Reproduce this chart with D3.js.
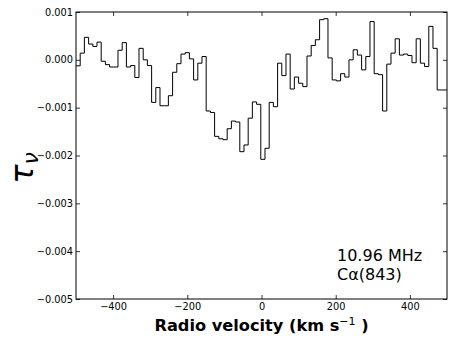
<!DOCTYPE html>
<html>
<head>
<meta charset="utf-8">
<script src="https://cdn.jsdelivr.net/npm/d3@7"></script>
<style>
  html, body { margin: 0; padding: 0; background: #fff; }
  svg { display: block; }
  text { font-family: "DejaVu Sans", sans-serif; }
</style>
</head>
<body>
<div id="chart"></div>
<script>
// Channel start velocities (km/s)
const velocities = [
  -500, -488.7, -477.4, -466.0, -454.7, -443.4, -432.1, -420.8, -409.4, -398.1,
  -386.8, -375.5, -364.2, -352.8, -341.5, -330.2, -318.9, -307.6, -296.2, -284.9,
  -273.6, -262.3, -251.0, -239.6, -228.3, -217.0, -205.7, -194.4, -183.0, -171.7,
  -160.4, -149.1, -137.8, -126.4, -115.1, -103.8, -92.5, -81.2, -69.8, -58.5,
  -47.2, -35.9, -24.6, -13.2, -1.9, 9.4, 20.7, 32.0, 43.4, 54.7,
  66.0, 77.3, 88.6, 100.0, 111.3, 122.6, 133.9, 145.2, 156.6, 167.9,
  179.2, 190.5, 201.8, 213.2, 224.5, 235.8, 247.1, 258.4, 269.8, 281.1,
  292.4, 303.7, 315.0, 326.4, 337.7, 349.0, 360.3, 371.6, 383.0, 394.3,
  405.6, 416.9, 428.2, 439.6, 450.9, 462.2, 473.5, 484.8, 496.2, 507.5
];
// Optical depth per channel
const tau = [
  -0.000125, 0.00014, 0.00047, 0.00033, 0.00028, 0.00037, -0.00003, -0.0001, -0.00015, -0.00015,
  0.0002, 0.00036, -0.00015, -0.00012, -0.00037, 0.00024, 0.0, -0.00012, -0.00089, -0.00058,
  -0.00096, -0.00096, -0.00075, -0.00026, -0.00008, 0.00012, 0.00015, 0.00002, -0.00042, -0.00007,
  0.00007, -0.00107, -0.0011, -0.0016, -0.00165, -0.00167, -0.00144, -0.00128, -0.0013, -0.00192,
  -0.00178, -0.00122, -0.00088, -0.00093, -0.00208, -0.00185, -0.00089, -0.00098, -0.00007, -0.00033,
  0.00012, -0.00061, -0.00036, -0.00049, -0.00056, 0.00008, 0.0003, 0.00042, 0.00084, 0.00086,
  0.00004, -0.00042, -0.00044, -0.00029, -0.00036, 0.0, 0.00021, 0.0001, -0.00021, 0.00007,
  0.0008, -0.00029, -0.00031, -0.00107, -0.00009, 0.00014, 0.00044, 0.0001, 0.00012, 0.00009,
  -0.00006, 0.00044, -0.00007, -0.00014, 0.0007, 0.00024, -0.00063, -0.00063, -0.00063
];
const xTicks = [-400, -200, 0, 200, 400];
const yTicks = [0.001, 0.000, -0.001, -0.002, -0.003, -0.004, -0.005];
const annotationLines = ["10.96 MHz", "C\u03B1(843)"];

const W = 450, H = 337;
const L = 76, R = 447, T = 12, B = 299;

const svg = d3.select("#chart").append("svg").attr("width", W).attr("height", H);

const x = d3.scaleLinear().domain([-500, 500]).range([L, R]);
const y = d3.scaleLinear().domain([-0.005, 0.001]).range([B, T]);

svg.append("clipPath").attr("id", "clip")
  .append("rect").attr("x", L).attr("y", T).attr("width", R - L).attr("height", B - T);

const pts = tau.map((v, i) => [velocities[i], v]);
pts.push([velocities[tau.length], tau[tau.length - 1]]);

const line = d3.line().x(d => x(d[0])).y(d => y(d[1])).curve(d3.curveStepAfter);

svg.append("path")
  .attr("clip-path", "url(#clip)")
  .attr("d", line(pts))
  .attr("fill", "none")
  .attr("stroke", "#000")
  .attr("stroke-width", 1);

const fmtY = d3.format(".3f");
const fmtX = d3.format("d");
const tickFont = 9.8;

const axB = svg.append("g").attr("transform", `translate(0,${B})`)
  .call(d3.axisBottom(x).tickValues(xTicks).tickFormat(fmtX).tickSizeInner(-4).tickSizeOuter(0).tickPadding(4.5));
const axT = svg.append("g").attr("transform", `translate(0,${T})`)
  .call(d3.axisTop(x).tickValues(xTicks).tickFormat("").tickSizeInner(-4).tickSizeOuter(0));
const axL = svg.append("g").attr("transform", `translate(${L},0)`)
  .call(d3.axisLeft(y).tickValues(yTicks).tickFormat(fmtY).tickSizeInner(-4).tickSizeOuter(0).tickPadding(3));
const axRt = svg.append("g").attr("transform", `translate(${R},0)`)
  .call(d3.axisRight(y).tickValues(yTicks).tickFormat("").tickSizeInner(-4).tickSizeOuter(0));

[axB, axT, axL, axRt].forEach(g => {
  g.select(".domain").remove();
  g.selectAll("line").attr("stroke", "#000").attr("stroke-width", 0.8);
  g.selectAll("text").attr("font-family", "DejaVu Sans").attr("font-size", tickFont).attr("fill", "#000");
});

svg.append("rect").attr("x", L).attr("y", T).attr("width", R - L).attr("height", B - T)
  .attr("fill", "none").attr("stroke", "#000").attr("stroke-width", 1);

const xl = svg.append("text")
  .attr("x", (L + R) / 2).attr("y", 331)
  .attr("text-anchor", "middle")
  .attr("font-size", 16.2).attr("font-weight", "bold");
xl.append("tspan").text("Radio velocity (km s");
xl.append("tspan").attr("dy", -6).attr("font-size", 11).attr("font-weight", "normal").text("\u22121");
xl.append("tspan").attr("dy", 6).text(" )");

const yl = svg.append("text")
  .attr("transform", "translate(33,168) rotate(-90)")
  .attr("text-anchor", "middle")
  .attr("font-size", 32).attr("font-style", "italic");
yl.append("tspan").text("\u03C4");
yl.append("tspan").attr("dy", 5).attr("font-size", 22).text("\u03BD");

svg.append("text").attr("x", 337).attr("y", 261).attr("font-size", 16).text(annotationLines[0]);
svg.append("text").attr("x", 337).attr("y", 280).attr("font-size", 16).text(annotationLines[1]);
</script>
</body>
</html>
